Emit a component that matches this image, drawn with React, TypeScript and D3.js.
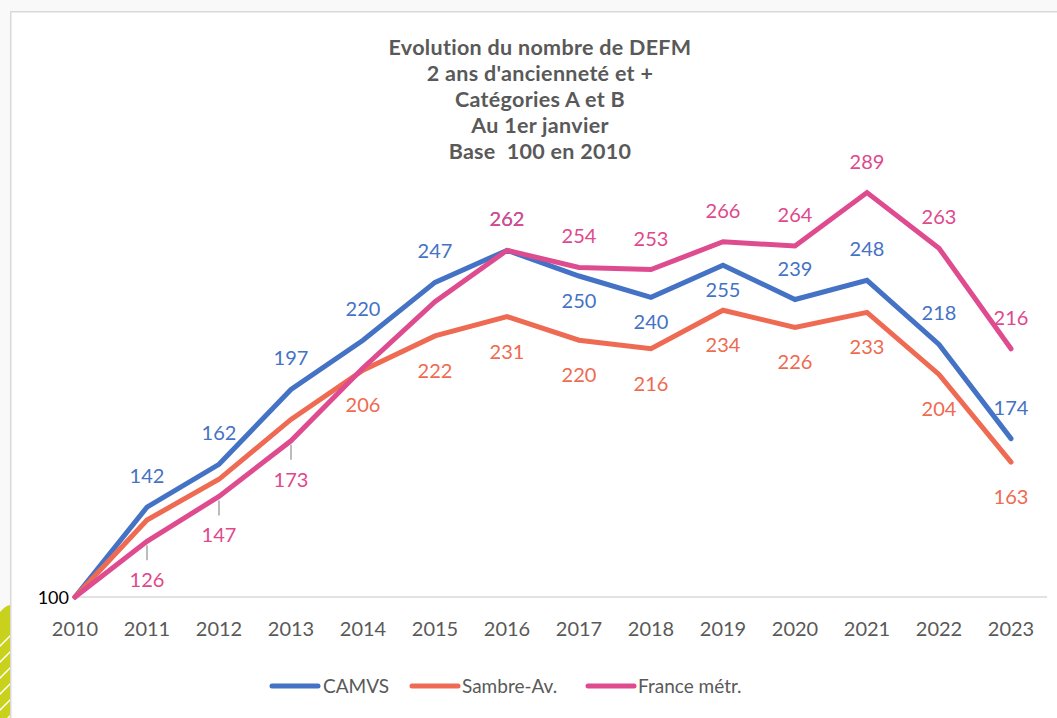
import React from "react";
import * as d3 from "d3";

const years = [2010, 2011, 2012, 2013, 2014, 2015, 2016, 2017, 2018, 2019, 2020, 2021, 2022, 2023];
const camvs = [100, 142, 162, 197, 220, 247, 262, 250, 240, 255, 239, 248, 218, 174];
const sambre = [100, 136, 155, 183, 206, 222, 231, 220, 216, 234, 226, 233, 204, 163];
const france = [100, 126, 147, 173, 207, 238, 262, 254, 253, 266, 264, 289, 263, 216];

const titleLines = [
  "Evolution du nombre de DEFM",
  "2 ans d'ancienneté et +",
  "Catégories A et B",
  "Au 1er janvier",
  "Base  100 en 2010",
];

// label placement per point: "" none, "a" above, "b" below, "B" below (further), "L" below with leader
const camvsPlace = ["", "a", "a", "a", "a", "a", "a", "b", "b", "b", "a", "a", "a", "a"];
const sambrePlace = ["", "", "", "", "B", "B", "B", "B", "B", "B", "B", "B", "B", "B"];
const francePlace = ["", "L", "L", "L", "", "", "a", "a", "a", "a", "a", "a", "a", "a"];

const series = [
  { name: "CAMVS", values: camvs, place: camvsPlace, color: "#4472c4", text: "#4472c4" },
  { name: "Sambre-Av.", values: sambre, place: sambrePlace, color: "#ef6a52", text: "#ee6a50" },
  { name: "France métr.", values: france, place: francePlace, color: "#df4b8f", text: "#e0488c" },
];

const W = 1057;
const H = 718;
const FONT = "Lato, 'Open Sans', sans-serif";

export default function App() {
  const x = d3.scalePoint<number>().domain(years).range([75, 1011]);
  const y = d3.scaleLinear().domain([100, 300]).range([597, 169]);
  const line = d3
    .line<number>()
    .x((_, i) => x(years[i]) as number)
    .y((v) => y(v));

  const legendItems = [
    { x1: 272, x2: 318, tx: 323 },
    { x1: 412, x2: 458, tx: 462 },
    { x1: 588, x2: 634, tx: 638 },
  ];

  return (
    <svg
      width={W}
      height={H}
      style={{ position: "absolute", left: 0, top: 0, fontVariantLigatures: "none", fontFeatureSettings: "'liga' 0" }}
      fontFamily={FONT}
    >
      <rect x={0} y={0} width={W} height={H} fill="#f9f9f9" />
      <rect x={10.75} y={11.75} width={W + 20} height={H + 20} fill="#ffffff" stroke="#d9d9d9" strokeWidth={1.5} />
      {/* decoration bottom-left */}
      <defs>
        <clipPath id="decoClip">
          <path d="M0,612 Q5,606 10,605 L10,718 L0,718 Z" />
        </clipPath>
      </defs>
      <g clipPath="url(#decoClip)">
        <rect x={0} y={600} width={10} height={118} fill="#c8d21c" />
        {d3.range(0, 8).map((k) => (
          <line key={k} x1={-4} y1={650 + k * 16} x2={12} y2={634 + k * 16} stroke="#ffffff" strokeWidth={1.5} />
        ))}
      </g>

      {/* title */}
      <g fill="#595959" fontWeight="bold" fontSize={21.5} textAnchor="middle">
        {titleLines.map((t, i) => (
          <text key={i} x={540} y={55 + i * 26} style={{ whiteSpace: "pre" }} letterSpacing={0.3}>
            {t}
          </text>
        ))}
      </g>

      {/* axis */}
      <line x1={75} x2={1047} y1={y(100)} y2={y(100)} stroke="#d9d9d9" strokeWidth={1.5} />
      <g fill="#595959" fontSize={20} textAnchor="middle">
        {years.map((yr) => (
          <text key={yr} x={x(yr)} y={636}>
            {yr}
          </text>
        ))}
      </g>
      <text x={69} y={y(100) + 7} fontSize={18} textAnchor="end" fill="#000000">
        100
      </text>

      {/* lines */}
      {series.map((s) => (
        <path
          key={s.name}
          d={line(s.values) || ""}
          fill="none"
          stroke={s.color}
          strokeWidth={5}
          strokeLinecap="round"
          strokeLinejoin="miter"
        />
      ))}

      {/* data labels */}
      {series.map((s) =>
        s.values.map((v, i) => {
          const p = s.place[i];
          if (!p) return null;
          const px = x(years[i]) as number;
          const py = y(v);
          let by = py;
          if (p === "a") by = py - 24;
          else if (p === "b") by = py + 32;
          else if (p === "B") by = py + 42;
          else if (p === "L") by = py + 46;
          return (
            <g key={s.name + i}>
              {p === "L" && (
                <line x1={px} x2={px} y1={py + 4} y2={py + 19} stroke="#a6a6a6" strokeWidth={1.5} />
              )}
              <text x={px} y={by} fontSize={20} textAnchor="middle" fill={s.text}>
                {v}
              </text>
            </g>
          );
        })
      )}

      {/* legend */}
      {series.map((s, i) => (
        <g key={s.name}>
          <line
            x1={legendItems[i].x1}
            x2={legendItems[i].x2}
            y1={686}
            y2={686}
            stroke={s.color}
            strokeWidth={5}
            strokeLinecap="round"
          />
          <text x={legendItems[i].tx} y={693} fontSize={19} fill="#595959">
            {s.name}
          </text>
        </g>
      ))}
    </svg>
  );
}
